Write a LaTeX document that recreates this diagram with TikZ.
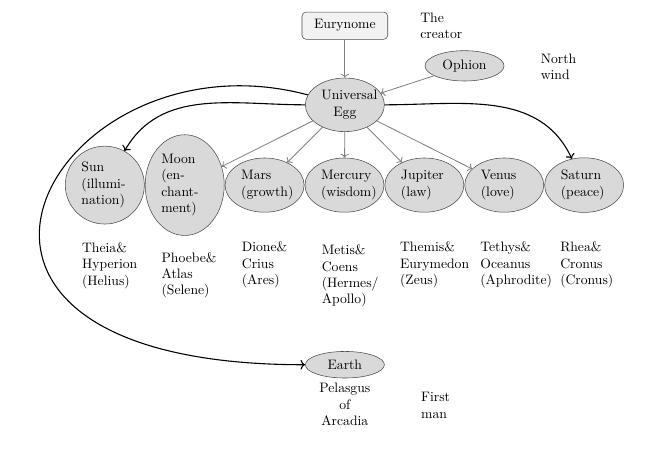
\documentclass[tikz,border=0pt]{standalone}
\usetikzlibrary{arrows.meta,positioning,shapes.geometric}
\hyphenation{wisdom}

\begin{document}
\begin{tikzpicture}[
  godnode/.style={ellipse, draw=black!70, fill=gray!30, text width=1.2cm, align=left},
  namenode/.style={godnode, align=center},
  boxnode/.style={draw=black!70, fill=gray!10, rounded corners=3pt, minimum width=2.2cm, minimum height=0.7cm},
  notenode/.style={align=left, inner sep=0pt, anchor=base west},
  grayarrow/.style={->, gray, semithick},
  blackarrow/.style={->, thick}]
\useasboundingbox (0,0) rectangle (16.86,11.75);
% Creator and wind
\node[boxnode] (eurynome) at (8.85,11.09) {Eurynome};
\node[notenode] (creator) at (10.78,10.75) {The\\creator};
\node[namenode] (ophion) at (11.92,10.06) {Ophion};
\node[notenode] (wind) at (13.87,9.71) {North\\wind};
\node[namenode] (egg) at (8.85,9.06) {Universal Egg};
% Planets
\node[godnode] (sun) at (2.69,7.0) {Sun (illumination)};
\node[godnode] (moon) at (4.74,7.0) {Moon (enchantment)};
\node[godnode] (mars) at (6.79,7.0) {Mars (growth)};
\node[godnode] (mercury) at (8.84,7.0) {Mercury (wisdom)};
\node[godnode] (jupiter) at (10.89,7.0) {Jupiter (law)};
\node[godnode] (venus) at (12.94,7.0) {Venus (love)};
\node[godnode] (saturn) at (14.99,7.0) {Saturn (peace)};
% Titan pairs
\node[notenode] (theia) at (2.10,4.43) {Theia\&\\Hyperion\\(Helius)};
\node[notenode] (phoebe) at (4.14,4.18) {Phoebe\&\\Atlas\\(Selene)};
\node[notenode] (dione) at (6.20,4.44) {Dione\&\\Crius\\(Ares)};
\node[notenode] (metis) at (8.25,3.95) {Metis\&\\Coens\\(Hermes/\\Apollo)};
\node[notenode] (themis) at (10.26,4.44) {Themis\&\\Eurymedon\\(Zeus)};
\node[notenode] (tethys) at (12.32,4.44) {Tethys\&\\Oceanus\\(Aphrodite)};
\node[notenode] (rhea) at (14.37,4.44) {Rhea\&\\Cronus\\(Cronus)};
% Earth
\node[namenode] (earth) at (8.85,2.39) {Earth};
\node[align=center, below=0pt of earth] (pelasgus) {Pelasgus\\of\\Arcadia};
\node[notenode] (man) at (10.80,1.02) {First\\man};
% Arrows
\draw[grayarrow] (eurynome) -- (egg);
\draw[grayarrow] (ophion) -- (egg);
\draw[grayarrow] (egg) -- (moon);
\draw[grayarrow] (egg) -- (mars);
\draw[grayarrow] (egg) -- (mercury);
\draw[grayarrow] (egg) -- (jupiter);
\draw[grayarrow] (egg) -- (venus);
\draw[blackarrow] (egg) to[out=180, in=60] (sun);
\draw[blackarrow] (egg) to[out=0, in=115] (saturn);
\draw[blackarrow] (egg) to[out=165, in=180, out looseness=2.5, in looseness=4.2] (earth);
\end{tikzpicture}
\end{document}
